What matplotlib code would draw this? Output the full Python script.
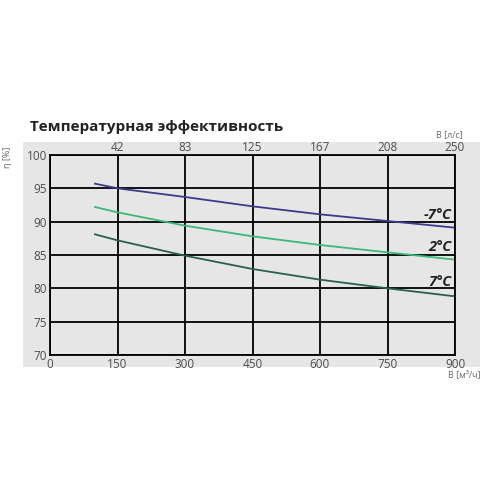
import matplotlib.pyplot as plt
from matplotlib.patches import Rectangle

# airflow, m3/h
flow = [100, 150, 300, 450, 600, 750, 900]
eff_m7 = [95.7, 95.0, 93.7, 92.3, 91.1, 90.1, 89.1]
eff_2 = [92.2, 91.4, 89.4, 87.8, 86.5, 85.4, 84.3]
eff_7 = [88.1, 87.2, 84.9, 82.9, 81.3, 80.0, 78.8]

x_ticks = [0, 150, 300, 450, 600, 750, 900]
top_labels = ['', '42', '83', '125', '167', '208', '250']
y_ticks = [70, 75, 80, 85, 90, 95, 100]

plt.rcParams['font.family'] = ['Open Sans', 'DejaVu Sans']

fig = plt.figure(figsize=(5, 5), dpi=100)
fig.patches.append(Rectangle((0.046, 0.266), 0.914, 0.45, transform=fig.transFigure,
                             facecolor='#e6e6e6', edgecolor='none', zorder=-5))

ax = fig.add_axes([0.1, 0.29, 0.81, 0.4])
ax.set_zorder(2)
ax.set_facecolor('#e6e6e6')
ax.set_xlim(0, 900)
ax.set_ylim(70, 100)
ax.set_xticks(x_ticks)
ax.set_yticks(y_ticks)
ax.grid(True, color='black', linewidth=1.3)
ax.set_axisbelow(True)
for s in ax.spines.values():
    s.set_color('black')
    s.set_linewidth(1.3)
ax.tick_params(length=0, labelsize=8.5, labelcolor='#4d4d4d', pad=2)

ax.plot(flow, eff_m7, color='#3b3b8c', linewidth=1.3)
ax.plot(flow, eff_2, color='#3cb87a', linewidth=1.3)
ax.plot(flow, eff_7, color='#2a6048', linewidth=1.3)

lab = dict(ha='right', va='center', fontsize=10.5, fontweight='bold', fontstyle='italic',
           color='#222222')
ax.text(893, 91.0, '-7°C', **lab)
ax.text(893, 86.2, '2°C', **lab)
ax.text(893, 80.9, '7°C', **lab)

top = ax.twiny()
top.set_xlim(ax.get_xlim())
top.set_xticks(x_ticks)
top.set_xticklabels(top_labels)
top.tick_params(length=0, labelsize=8.5, labelcolor='#4d4d4d', pad=1)
for s in top.spines.values():
    s.set_visible(False)

fig.text(0.06, 0.745, 'Температурная эффективность', fontsize=11, fontweight='bold',
         color='#222222', va='center')
fig.text(0.926, 0.73, 'В [л/с]', fontsize=6.5, color='#666666', ha='right', va='center')
fig.text(0.96, 0.25, 'В [м³/ч]', fontsize=6.5, color='#666666', ha='right', va='center')
fig.text(0.016, 0.685, 'η [%]', fontsize=6.5, color='#666666', rotation=90,
         ha='center', va='center')

fig.savefig('out.png', dpi=100)
